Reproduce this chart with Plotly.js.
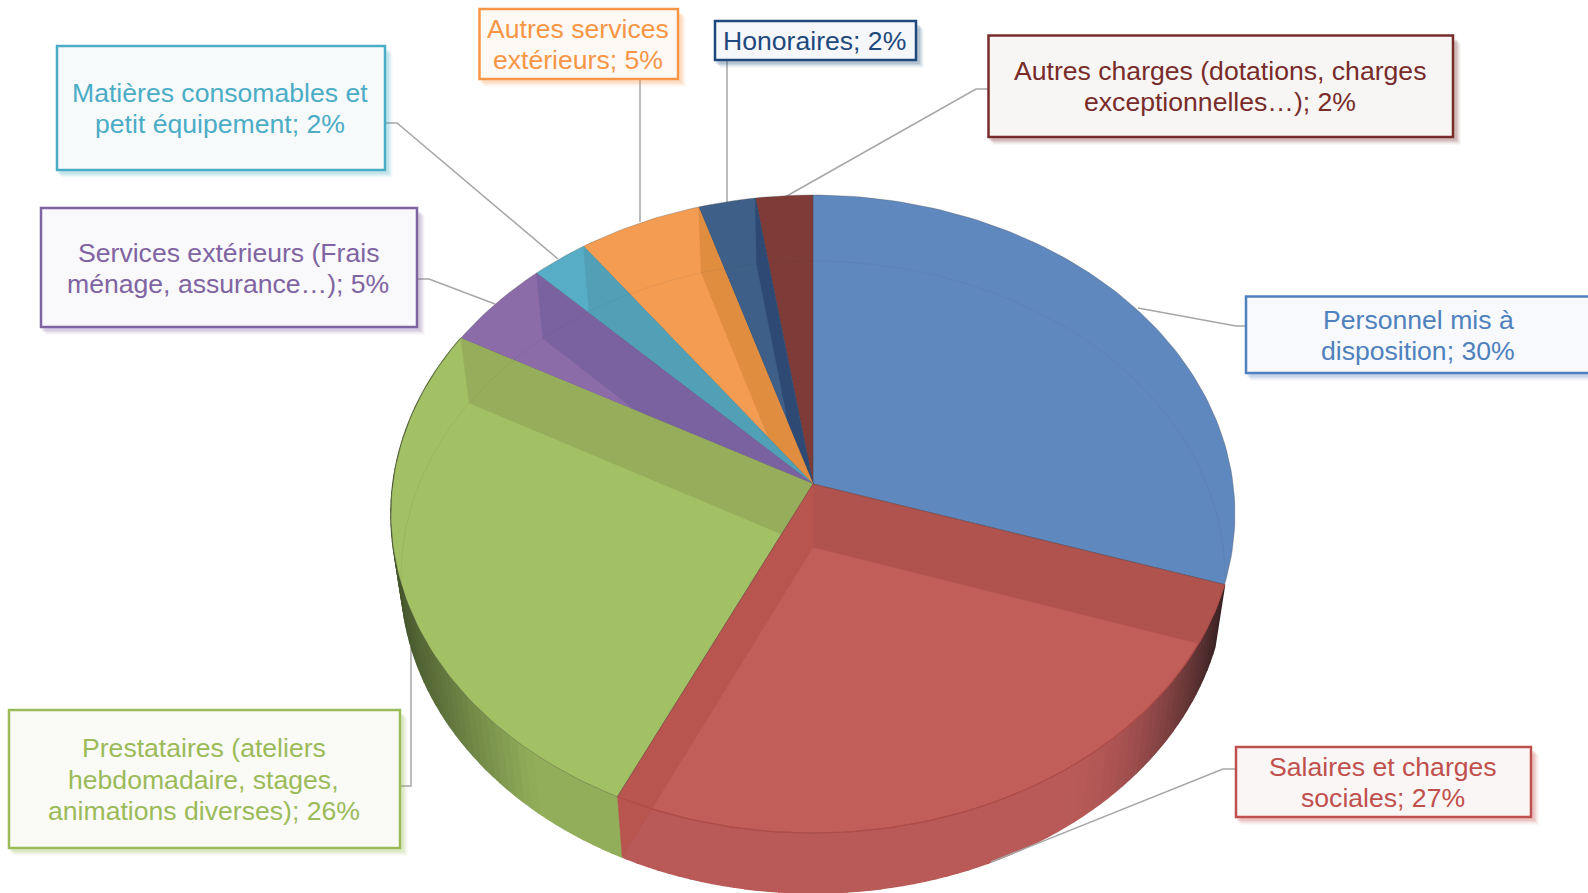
<!DOCTYPE html>
<html><head><meta charset="utf-8">
<script src="https://cdn.plot.ly/plotly-3.0.1.min.js"></script>
<style>html,body{margin:0;padding:0;background:#fff;overflow:hidden}#c{width:1588px;height:893px}</style>
</head><body><div id="c"></div>
<script>
// ---- data (clockwise from 12 o'clock) ----
const categories = ["Personnel mis à disposition","Salaires et charges sociales","Prestataires (ateliers hebdomadaire, stages, animations diverses)","Services extérieurs (Frais ménage, assurance…)","Matières consomables et petit équipement","Autres services extérieurs","Honoraires","Autres charges (dotations, charges exceptionnelles…)"];
const values = [30, 27, 26, 4.6, 2.4, 5.2, 2.4, 2.4];
const percentLabels = ["30%","27%","26%","5%","2%","5%","2%","2%"];
const labelLines = [["Personnel mis à","disposition; "],["Salaires et charges","sociales; "],["Prestataires (ateliers","hebdomadaire, stages,","animations diverses); "],["Services extérieurs (Frais","ménage, assurance…); "],["Matières consomables et","petit équipement; "],["Autres services","extérieurs; "],["Honoraires; "],["Autres charges (dotations, charges","exceptionnelles…); "]];
// ---- styling ----
const textColors = ["#4f81bd","#c0504d","#9bbb59","#8064a2","#4bacc6","#f79646","#1f497d","#772c2a"];
const topColors = ["#5f88bf","#c25e59","#a2c064","#8b6ca8","#58adc6","#f49c52","#3e5f88","#7e3b38"];
const wallColors = ["#5f88bf","#b0534f","#96ad5c","#7a62a0","#52a0b5","#e08d40","#2e4a74","#7e3b38"];
const boxFills = ["#f7f9fc","#faf6f6","#fafaf7","#f9f8fb","#f6fafb","#fef9f5","#f5f7fa","#f8f5f5"];
// box geometry: [x0,y0,x1,y1]
const boxes = [[1246,296.5,1592,373],[1236,747,1531,817],[9,710,400,848],[41,208,417,327],[57,46,385,170],[479.5,9,678,79],[715,21,916,60],[988.5,35.5,1453,137]];
const leaders = [[[1246,326],[1236,326],[1138,308]],[[1236,769],[1223,769],[991,862]],[[400,786],[411,786],[411,647]],[[418,279],[429,279],[495,304]],[[386,123],[397,123],[558,259]],[[640,79],[640,222]],[[727,60],[727,202]],[[989,89],[976,89],[785,197]]];
const FONT = "Liberation Sans, Arial, sans-serif";
const FS = 26.6, LINE = 31.2;

const total = values.reduce((a,b)=>a+b,0);
const cum = [0]; values.forEach((v,i)=>cum.push(cum[i]+v/total));
const a = -0.094;
const TOP = {cx:813,cy:514,rx:422,ry:319}, BOT = {cx:813,cy:577,rx:412,ry:316};
function pt(E,f){
  const th=2*Math.PI*f, px=Math.sin(th), py=-Math.cos(th), d=1+a*py;
  return [E.cx+E.rx*px*Math.sqrt(1-a*a)/d, E.cy+E.ry*(py+a)/d];
}
const apex=E=>[E.cx,E.cy+E.ry*a];
function arc(E,f0,f1,n){const o=[];for(let i=0;i<=n;i++)o.push(pt(E,f0+(f1-f0)*i/n));return o;}
function inTop(p){const u=(p[0]-TOP.cx)/TOP.rx,v=(p[1]-TOP.cy)/TOP.ry;return u*u+v*v<=1;}
const traces=[];
function poly(pts,fill,line,lw){
  traces.push({type:'scatter',mode:'lines',x:pts.map(p=>p[0]).concat([pts[0][0]]),y:pts.map(p=>p[1]).concat([pts[0][1]]),
    fill:'toself',fillcolor:fill,line:{color:line||fill,width:lw==null?0.8:lw},hoverinfo:'skip',showlegend:false});
}
function hex(c){return [1,3,5].map(i=>parseInt(c.substr(i,2),16));}
function mix(c1,c2,t){const A=hex(c1),B=hex(c2);return 'rgb('+A.map((v,i)=>Math.round(v+(B[i]-v)*t)).join(',')+')';}
// outer rim strips (only front slices are visible)
const STEP=0.004;
function rim(idx,shade){
  for(let f=cum[idx];f<cum[idx+1]-1e-9;f+=STEP){
    const g=Math.min(f+STEP,cum[idx+1]);
    const t0=pt(TOP,f),t1=pt(TOP,g),b0=pt(BOT,f),b1=pt(BOT,g);
    const c=shade((b0[0]+b1[0])/2);
    poly([t0,t1,b1,b0],c,c,1.6);
  }
}
rim(1,x=>{const t=Math.max(0,Math.min(1,(x-1060)/(1224-1060)));return mix("#b95a58","#2a1c1e",Math.pow(t,1.9));});
rim(2,x=>{const t=Math.max(0,Math.min(1,(540-x)/(540-402)));return mix("#93ae5a","#45562d",Math.pow(t,1.1));});

const edge="rgba(70,70,70,0.38)";
function slice(i){
  poly([apex(TOP)].concat(arc(TOP,cum[i],cum[i+1],Math.max(8,Math.round(values[i]*3)))),topColors[i],edge,0.8);
}
function radial(i,f,col){ // cut face of a slice, seen through the top
  const c=col||wallColors[i];
  poly([apex(TOP),pt(TOP,f),pt(BOT,f),apex(BOT)],c,c,0.4);
}
// cut face trimmed to the top surface, so the dark rim sliver stays visible
function radialTrimmed(i,f){
  const A=apex(BOT),B=pt(BOT,f),side=p=>(B[0]-A[0])*(p[1]-A[1])-(B[1]-A[1])*(p[0]-A[0]);
  const pts=[apex(TOP)];
  for(let g=f;g<f+0.1;g+=0.001){const p=pt(TOP,g);pts.push(p);if(side(p)>0)break;}
  pts.push(A);
  poly(pts,wallColors[i],wallColors[i],0.4);
}
// back slices are painted last-to-first, so each cut face is trimmed by its neighbour
slice(0);
for(let i=7;i>=2;i--){ slice(i); if(i<7) radial(i,cum[i+1]); }
slice(1); radialTrimmed(1,cum[1]); radial(1,cum[2],"#b8554f");
// re-stroke red slice edge
traces.push({type:'scatter',mode:'lines',x:[pt(TOP,cum[1])[0],apex(TOP)[0],pt(TOP,cum[2])[0]],y:[pt(TOP,cum[1])[1],apex(TOP)[1],pt(TOP,cum[2])[1]],line:{color:edge,width:0.8},hoverinfo:'skip',showlegend:false});
// faint far rim visible through the top surface
const faint=arc(BOT,0,1,360).map(p=>inTop(p)?p:[null,null]);
traces.push({type:'scatter',mode:'lines',x:faint.map(p=>p[0]),y:faint.map(p=>p[1]),line:{color:'rgba(60,60,60,0.08)',width:1},hoverinfo:'skip',showlegend:false});
// front edge of the top surface on the red slice
const fr=arc(TOP,cum[1],cum[2],80);
traces.push({type:'scatter',mode:'lines',x:fr.map(p=>p[0]),y:fr.map(p=>p[1]),line:{color:'#b04c48',width:1.2},hoverinfo:'skip',showlegend:false});

const shapes=[],annotations=[];
leaders.forEach((l,i)=>{shapes.push({type:'path',layer:i===1?'above':'below',path:l.map((p,k)=>(k?'L':'M')+p[0]+','+p[1]).join(' '),line:{color:'#a6a6a6',width:1.5}});});
boxes.forEach((b,i)=>{
  [[7,0.04],[6,0.05],[5,0.07],[4,0.09],[3,0.12]].forEach(s=>{
    shapes.push({type:'rect',layer:'below',x0:b[0]+s[0]-2,y0:b[1]+s[0]+1,x1:b[2]+s[0]+1,y1:b[3]+s[0]+1,fillcolor:textColors[i],opacity:s[1],line:{width:0}});
  });
  shapes.push({type:'rect',layer:'above',x0:b[0],y0:b[1],x1:b[2],y1:b[3],fillcolor:boxFills[i],line:{color:textColors[i],width:2.5}});
  const lines=labelLines[i].slice(); lines[lines.length-1]+=percentLabels[i];
  const cy=(b[1]+b[3])/2+0.6, cx=(b[0]+b[2])/2-0.7;
  lines.forEach((t,k)=>{
    annotations.push({x:cx,y:cy+(k-(lines.length-1)/2)*LINE,xref:'x',yref:'y',xanchor:'center',yanchor:'middle',showarrow:false,align:'center',
      text:t,font:{family:FONT,size:FS,color:textColors[i]}});
  });
});
Plotly.newPlot('c',traces,{
  width:1588,height:893,margin:{l:0,r:0,t:0,b:0},paper_bgcolor:'#fff',plot_bgcolor:'#fff',showlegend:false,
  xaxis:{range:[0,1588],visible:false,fixedrange:true},
  yaxis:{range:[893,0],visible:false,fixedrange:true},
  shapes,annotations
},{staticPlot:true,displayModeBar:false});
</script></body></html>
